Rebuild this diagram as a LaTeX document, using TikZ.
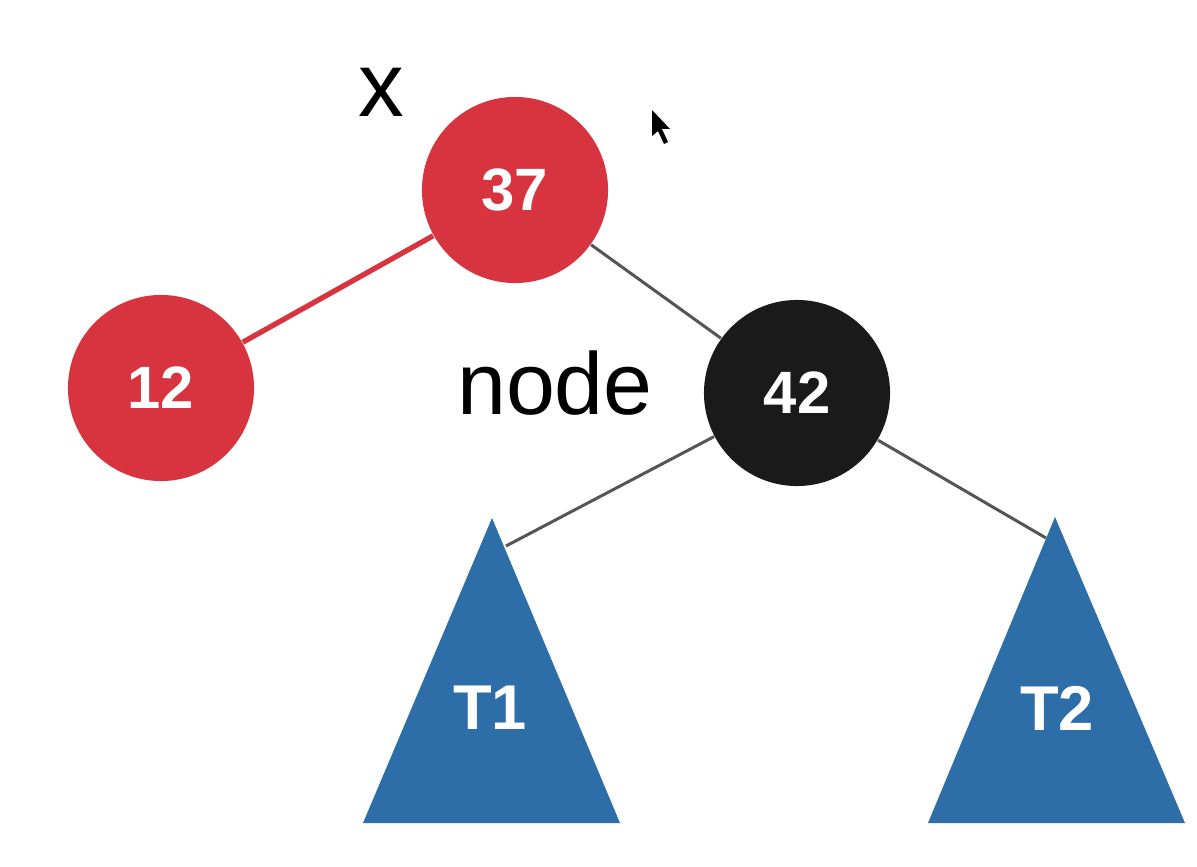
\documentclass[tikz,border=0pt]{standalone}
\usepackage{fontspec}
\setmainfont{Liberation Sans}
\usepackage{xcolor}
\usepackage{tikz}
\usetikzlibrary{positioning}
\definecolor{rbred}{RGB}{216, 52, 64}
\definecolor{rbblack}{RGB}{26, 26, 26}
\definecolor{subblue}{RGB}{46, 110, 168}
\definecolor{edgegray}{RGB}{85, 85, 85}
\tikzstyle{rbnode} = [
    circle,
    minimum size=1.86cm,
    inner sep=0pt,
    text=white,
    font=\fontsize{17}{20}\selectfont\bfseries
]
\tikzstyle{subtree} = [
    fill=subblue
]
\tikzstyle{treelabel} = [
    text=white,
    font=\fontsize{18}{21}\selectfont\bfseries
]
\tikzstyle{edge} = [
    line width=0.85pt,
    color=edgegray
]
\tikzstyle{rededge} = [
    line width=1.5pt,
    color=rbred
]

\begin{document}
\begin{tikzpicture}[x=0.01cm, y=-0.01cm]
        \useasboundingbox[fill=white] (0,0) rectangle (1197,867);

        % Subtrees
        \fill[subtree] (492,518) -- (620,823) -- (363,823) -- cycle;
        \fill[subtree] (1055,517) -- (1185,823) -- (928,823) -- cycle;
        \node[treelabel] (t1) at (490,708) {T1};
        \node[treelabel] (t2) at (1057,708) {T2};
        \coordinate (t1tip) at (506,546);
        \coordinate (t2tip) at (1046,538);

        % Tree nodes
        \node[rbnode, fill=rbred] (n37) at (515,190) {37};
        \node[rbnode, fill=rbred] (n12) at (161,388) {12};
        \node[rbnode, fill=rbblack] (n42) at (797,393) {42};

        % Edges
        \draw[rededge] (n37) -- (n12);
        \draw[edge] (n37) -- (n42);
        \draw[edge] (n42) -- (t1tip);
        \draw[edge] (n42) -- (t2tip);

        % Labels
        \node[font=\fontsize{26}{30}\selectfont] (xlabel) at (381,92) {x};
        \node[font=\fontsize{25}{30}\selectfont, left=0.38cm of n42, yshift=0.1cm] (nodelabel) {node};

        % Cursor
        \fill[black] (652,110) -- (652,136) -- (658,131) -- (664,144) -- (668,142) -- (662,129) -- (670,129) -- cycle;
    \end{tikzpicture}
\end{document}
